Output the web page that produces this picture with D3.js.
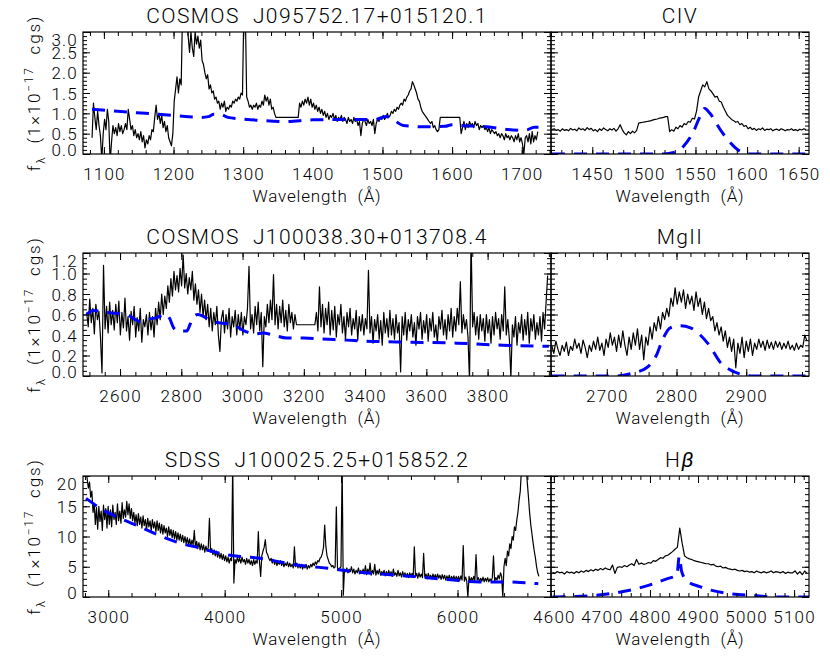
<!DOCTYPE html>
<html>
<head>
<meta charset="utf-8">
<script src="https://cdn.jsdelivr.net/npm/d3@7"></script>
<style>
  body { margin: 0; background: #fff; }
  text { font-family: Roboto, "Liberation Sans", Arial, sans-serif; font-weight: 300; fill: #000; }
</style>
</head>
<body>
<div class="chart"></div>
<script>
// Quasar spectra, three objects, each with a zoom on one broad line

// ---- Row 1 : COSMOS J095752.17+015120.1 / CIV ----
var spec1Start = 1083, spec1Step = 2;
var spec1Flux = [
  0.4, 1.25, 0.9, 0.6, 1.05, 0.7, 0.45, -0.15, 0.5, 0.85, 0.6, 1.1, 0.8, -0.2, 0.3, 0.7, 0.5, 0.65, 0.45, 0.75,
  0.55, 0.7, 0.5, 0.6, 0.75, 0.6, 1.1, 0.85, 0.6, 0.7, 0.45, 0.6, 0.4, 0.5, 0.35, 0.55, 0.3, 0.45, 0.15, 0.35,
  0.25, 0.45, 0.35, 0.6, 0.55, 0.9, 1.2, 0.85, 1.0, 0.75, 0.95, 0.65, 0.8, 0.55, 0.7, 0.4, 0.3, 0.2, 0.5, 1.3,
  1.6, 1.9, 1.5, 1.85, 1.7, 3.6, 3.6, 3.6, 3.5, 2.9, 2.5, 3.0, 2.6, 2.4, 3.0, 2.7, 2.9, 2.6, 2.8, 2.3,
  2.2, 2.0, 1.85, 1.95, 1.6, 1.7, 1.5, 1.55, 1.35, 1.4, 1.25, 1.3, 1.1, 1.25, 1.15, 1.3, 1.05, 1.15, 1.1, 1.2,
  1.15, 1.3, 1.25, 1.35, 1.3, 1.4, 1.35, 1.5, 1.45, 3.6, 3.6, 1.4, 1.3, 1.15, 1.2, 1.1, 1.2, 1.15, 1.25, 1.1,
  1.2, 1.15, 1.3, 1.2, 1.45, 1.3, 1.4, 1.2, 1.35, 1.1, 1.15, 1.0, 0.9, 0.9, 0.9, 0.9, 0.9, 0.9, 0.9, 0.9,
  0.9, 0.9, 0.9, 0.9, 0.9, 0.9, 0.9, 0.9, 0.9, 1.25, 1.15, 1.3, 1.2, 1.35, 1.25, 1.4, 1.2, 1.35, 1.15, 1.25,
  1.1, 1.2, 1.05, 1.15, 1.0, 1.1, 0.95, 1.05, 0.9, 1.0, 0.85, 0.95, 0.9, 1.0, 0.85, 0.95, 0.8, 0.9, 0.85, 0.95,
  0.8, 0.9, 0.85, 0.75, 0.9, 0.8, 0.85, 0.75, 0.9, 0.8, 0.85, 0.7, 0.8, 0.45, 0.75, 0.85, 0.8, 0.7, 0.85, 0.75,
  0.8, 0.7, 0.85, 0.5, 0.75, 0.85, 0.8, 0.9, 0.85, 0.95, 0.85, 0.9, 1.0, 0.9, 0.95, 1.05, 1.0, 1.1, 1.05, 1.15,
  1.1, 1.2, 1.25, 1.2, 1.35, 1.3, 1.4, 1.45, 1.55, 1.6, 1.78, 1.7, 1.6, 1.5, 1.35, 1.3, 1.15, 1.05, 1.0, 0.95,
  0.9, 0.85, 0.8, 0.75, 0.8, 0.65, 0.7, 0.6, 0.55, 0.6, 0.9, 0.9, 0.9, 0.9, 0.9, 0.9, 0.9, 0.9, 0.9, 0.9,
  0.9, 0.9, 0.9, 0.9, 0.9, 0.5, 0.65, 0.8, 0.6, 0.75, 0.65, 0.8, 0.7, 0.75, 0.65, 0.8, 0.7, 0.75, 0.6, 0.7,
  0.65, 0.7, 0.6, 0.65, 0.55, 0.65, 0.5, 0.6, 0.55, 0.5, 0.55, 0.45, 0.5, 0.4, 0.5, 0.45, 0.35, 0.5, 0.4, 0.45,
  0.35, 0.45, 0.4, 0.3, 0.45, 0.35, 0.5, 0.3, 0.4, 0.25, 0.0, 0.4, 0.45, 0.3, 0.5, 0.25, 0.55, 0.3, 0.45, 0.35,
  0.55
];
var model1Wave = [1083, 1120, 1160, 1200, 1240, 1250, 1258, 1268, 1278, 1300, 1330, 1360, 1400, 1450, 1490, 1505, 1515, 1530, 1560, 1590, 1600, 1612, 1650, 1680, 1705, 1718, 1724];
var model1Flux = [1.1, 1.05, 1.0, 0.95, 0.9, 0.92, 0.98, 0.97, 0.9, 0.86, 0.82, 0.8, 0.84, 0.85, 0.85, 0.92, 0.85, 0.7, 0.67, 0.68, 0.72, 0.7, 0.67, 0.6, 0.58, 0.66, 0.66];

var civStart = 1411, civStep = 2;
var civFlux = [
  0.6, 0.62, 0.58, 0.6, 0.56, 0.62, 0.58, 0.6, 0.57, 0.63,
  0.59, 0.61, 0.57, 0.64, 0.6, 0.62, 0.58, 0.65, 0.6, 0.63,
  0.57, 0.6, 0.55, 0.62, 0.58, 0.64, 0.6, 0.57, 0.62, 0.59,
  0.63, 0.56, 0.62, 0.72, 0.6, 0.52, 0.47, 0.55, 0.5, 0.56,
  0.52, 0.58, 0.76, 0.77, 0.78, 0.79, 0.8, 0.81, 0.82, 0.84,
  0.85, 0.86, 0.88, 0.89, 0.9, 0.92, 0.92, 0.55, 0.6, 0.56,
  0.66, 0.62, 0.7, 0.66, 0.75, 0.72, 0.8, 0.78, 0.88, 0.86,
  1.05, 1.4, 1.55, 1.7, 1.65, 1.78, 1.6, 1.55, 1.48, 1.4,
  1.42, 1.3, 1.28, 1.15, 1.05, 0.95, 0.9, 0.85, 0.82, 0.78,
  0.8, 0.72, 0.75, 0.68, 0.7, 0.62, 0.66, 0.6, 0.63, 0.58,
  0.62, 0.6, 0.64, 0.58, 0.61, 0.6, 0.62, 0.57, 0.6, 0.61,
  0.58, 0.62, 0.6, 0.57, 0.6, 0.59, 0.62, 0.58, 0.6, 0.57,
  0.61, 0.59, 0.62, 0.6
];
var civModelWave = [1411, 1520, 1528, 1538, 1548, 1554, 1559, 1564, 1574, 1583, 1593, 1603, 1660];
var civModelFlux = [0, 0, 0.03, 0.18, 0.55, 0.9, 1.12, 1.0, 0.6, 0.3, 0.07, 0, 0];

// ---- Row 2 : COSMOS J100038.30+013708.4 / MgII ----
var spec2Start = 2491, spec2Step = 5;
var spec2Flux = [
  .62, .48, .75, .52, .66, .41, .70, .55, .63, .38, .03, 1.08, .46, .68, .42, .72, .50, .64, .45, .70,
  .52, .73, .40, .62, .47, .76, .44, .58, .35, .63, .50, .68, .38, .57, .44, .66, .33, .55, .48, .60,
  .40, .62, .45, .58, .38, .66, .50, .72, .55, .80, .60, .78, .66, .88, .72, .95, .78, 1.02, .84, .98,
  .82, 1.05, .88, 1.18, .86, 1.00, .80, .96, .84, 1.02, .74, .90, .70, .84, .62, .80, .58, .74, .55, .70,
  .48, .66, .44, .62, .50, .68, .40, .24, .56, .64, .42, .60, .46, .66, .38, .58, .48, .64, .40, .60,
  .45, .62, .40, .58, .50, .66, 1.07, .46, .60, .42, .68, .50, .72, .44, .62, .09, .58, .48, .70, .52,
  .74, .55, .99, .50, .70, .46, .68, .52, .74, .48, .64, .44, .70, .52, .62, .46, .60, .50, .50, .50,
  .50, .50, .50, .50, .50, .50, .50, .50, .50, .50, .62, .44, .87, .48, .70, .42, .66, .50, .72, .40,
  .64, .45, .68, .38, .60, .50, .70, .42, .58, .36, .62, .48, .66, .40, .56, .46, .64, .35, .58, .44,
  .60, .40, .56, .46, 1.03, .42, .58, .32, .55, .44, .60, .36, .54, .30, .62, .42, .56, .38, .64, .40,
  .56, .36, .60, .42, .52, .04, .58, .40, .62, .35, .55, .44, .60, .38, .52, .30, .58, .46, .62, .36,
  .54, .42, .60, .34, .56, .44, .62, .38, .50, .32, .58, .46, .64, .40, .55, .36, .60, .44, .66, .38,
  .58, .44, .66, .50, .92, .42, .60, .46, .55, .38, -.05, 1.35, .48, .62, .40, .58, .36, .60, .44, .56,
  .34, .60, .42, .55, .32, .58, .40, .62, .46, .56, .36, .60, .44, .87, .40, .55, .36, -.02, .50, .38,
  .58, .30, .52, .42, .60, .35, .55, .40, .62, .32, .56, .44, .60, .36, .52, .40, .58, .34, .62, .46,
  .72, .98
];
var model2Wave = [2491, 2512, 2556, 2621, 2650, 2665, 2687, 2720, 2750, 2762, 2775, 2790, 2818, 2828, 2840, 2854, 2903, 2968, 3013, 3040, 3066, 3100, 3144, 3200, 3260, 3340, 3400, 3550, 3700, 3850, 4000];
var model2Flux = [0.6, 0.64, 0.62, 0.6, 0.55, 0.53, 0.55, 0.57, 0.6, 0.56, 0.47, 0.44, 0.44, 0.5, 0.58, 0.6, 0.53, 0.5, 0.43, 0.41, 0.42, 0.4, 0.37, 0.37, 0.36, 0.35, 0.34, 0.33, 0.32, 0.3, 0.29];

var mgStart = 2621, mgStep = 3;
var mgFlux = [
  0.30, 0.22, 0.34, 0.26, 0.20, 0.30, 0.24, 0.33, 0.20, 0.29,
  0.25, 0.36, 0.27, 0.32, 0.22, 0.35, 0.28, 0.18, 0.30, 0.24,
  0.34, 0.26, 0.38, 0.25, 0.32, 0.20, 0.36, 0.28, 0.42, 0.30,
  0.38, 0.24, 0.40, 0.28, 0.44, 0.30, 0.20, 0.38, 0.26, 0.42,
  0.30, 0.46, 0.26, 0.40, 0.16, 0.38, 0.30, 0.48, 0.36, 0.52,
  0.44, 0.58, 0.46, 0.62, 0.55, 0.66, 0.58, 0.76, 0.68, 0.86,
  0.70, 0.82, 0.72, 0.84, 0.66, 0.80, 0.70, 0.78, 0.64, 0.82,
  0.68, 0.76, 0.60, 0.72, 0.56, 0.66, 0.54, 0.58, 0.44, 0.52,
  0.40, 0.48, 0.34, 0.44, 0.28, 0.38, 0.24, 0.36, 0.08, 0.32,
  0.22, 0.38, 0.18, 0.34, 0.24, 0.36, 0.20, 0.32, 0.26, 0.36,
  0.28, 0.34, 0.25, 0.35, 0.27, 0.33, 0.26, 0.34, 0.28, 0.33,
  0.26, 0.32, 0.27, 0.34, 0.26, 0.30, 0.25, 0.32, 0.26, 0.30,
  0.28, 0.40, 0.34
];
var mgModelWave = [2621, 2714, 2738, 2757, 2771, 2781, 2791, 2805, 2820, 2834, 2848, 2862, 2877, 2891, 2910, 2990];
var mgModelFlux = [0, 0, 0.03, 0.08, 0.2, 0.37, 0.47, 0.49, 0.47, 0.4, 0.29, 0.14, 0.06, 0.02, 0, 0];

// ---- Row 3 : SDSS J100025.25+015852.2 / Hbeta ----
var spec3Start = 2809, spec3Step = 10;
var spec3Flux = [
  21.0, 19.5, 18.0, 19.0, 16.5, 17.5, 14.0, 15.5, 12.0, 14.8, 11.2, 15.0, 12.5, 14.2, 11.0, 15.2, 12.8, 14.6, 11.4, 15.0,
  12.0, 14.4, 11.6, 15.2, 12.8, 14.0, 12.0, 15.4, 12.6, 14.2, 12.2, 15.6, 13.0, 14.4, 13.2, 15.8, 13.6, 15.4, 13.0, 14.6,
  12.6, 14.0, 12.2, 13.6, 11.8, 13.8, 12.0, 13.2, 11.4, 13.4, 11.8, 12.8, 11.2, 13.0, 11.6, 12.6, 11.0, 12.8, 11.4, 12.4,
  10.8, 12.6, 11.0, 12.2, 10.6, 12.0, 10.4, 11.8, 10.6, 11.4, 10.0, 11.6, 10.2, 11.2, 9.8, 11.0, 9.6, 10.8, 9.4, 10.6,
  9.4, 10.4, 9.2, 10.2, 9.0, 10.0, 8.8, 9.8, 8.6, 9.6, 8.4, 9.4, 8.6, 11.0, 8.2, 9.2, 8.0, 9.0, 7.8, 8.8,
  7.8, 8.6, 7.4, 8.4, 7.6, 8.2, 13.0, 7.4, 8.0, 7.0, 7.8, 6.8, 7.6, 6.6, 7.4, 6.4, 7.2, 6.2, 7.0, 6.0,
  6.8, 5.8, 6.6, 5.6, 6.4, 6.0, 22.0, 2.3, 6.2, 5.6, 6.6, 5.8, 6.4, 5.6, 6.6, 5.8, 6.2, 5.4, 6.4, 5.6,
  6.2, 5.4, 6.0, 5.2, 6.2, 5.4, 6.0, 5.6, 10.8, 5.8, 3.4, 6.8, 7.6, 8.2, 9.5, 7.4, 7.0, 6.4, 6.0, 6.4,
  5.6, 6.2, 5.4, 6.0, 5.2, 5.8, 5.4, 6.0, 5.2, 5.8, 5.0, 5.6, 5.2, 5.8, 5.0, 5.6, 5.0, 5.4, 4.8, 8.3,
  5.0, 5.6, 4.8, 5.4, 4.8, 5.4, 4.6, 5.2, 4.8, 5.4, 4.6, 5.2, 4.8, 5.4, 5.0, 5.6, 5.2, 5.8, 5.4, 6.0,
  5.8, 6.4, 6.6, 7.2, 8.2, 11.9, 8.4, 6.8, 6.2, 5.6, 5.4, 5.0, 5.2, 4.8, 5.0, 14.9, 4.8, 4.6, 4.8, 5.0,
  22.0, 0.3, 4.6, 4.2, 4.8, 4.0, 4.6, 4.2, 5.0, 4.0, 4.6, 3.8, 4.4, 4.0, 4.8, 3.8, 4.4, 3.9, 4.6, 3.8,
  5.2, 3.7, 4.6, 3.9, 5.6, 3.6, 4.4, 3.8, 5.4, 3.6, 4.4, 3.8, 4.6, 3.6, 4.2, 3.8, 4.4, 3.5, 4.2, 3.6,
  4.4, 3.6, 4.2, 3.4, 4.6, 3.6, 4.0, 3.4, 4.4, 3.5, 4.0, 3.3, 4.2, 3.4, 4.0, 3.3, 3.9, 3.2, 4.0, 3.4,
  3.9, 3.2, 8.3, 3.4, 3.9, 3.1, 4.0, 3.3, 3.8, 3.2, 7.2, 3.3, 3.8, 3.0, 3.9, 3.2, 3.6, 3.0, 3.8, 3.1,
  3.7, 3.0, 3.8, 3.1, 3.6, 2.9, 3.7, 3.0, 3.6, 2.8, 3.5, 2.9, 3.6, 2.8, 3.4, 2.9, 3.5, 2.7, 3.4, 2.8,
  3.4, 2.7, 3.5, 2.8, 8.5, 2.6, 3.3, 2.7, 0.0, 3.4, 2.6, 3.2, 2.7, 3.4, 2.6, 7.0, 2.8, 3.2, 2.5, 3.1,
  2.6, 3.3, 2.5, 3.1, 2.6, 3.2, 2.5, 3.0, 2.6, 3.2, 6.8, 2.6, 3.2, 2.8, 3.6, 3.0, 4.0, 3.4, 0.0, 5.0,
  6.4, 5.2, 7.6, 6.8, 8.8, 8.0, 10.0, 9.4, 11.6, 11.0, 12.7, 14.0, 16.0, 17.5, 21.0, 24.0, 24.0, 23.0, 22.0, 19.0,
  16.6, 14.0, 12.0, 10.5, 9.0, 7.6, 6.5, 5.0, 4.0, 3.4
];
var model3Wave = [2809, 2929, 3101, 3273, 3445, 3616, 3788, 3960, 4132, 4304, 4475, 4618, 4761, 4905, 5105, 5334, 5621, 5907, 6193, 6423, 6537, 6694];
var model3Flux = [16.3, 14.7, 13.0, 11.6, 10.1, 8.9, 8.1, 7.2, 6.7, 6.4, 5.8, 5.3, 5.0, 4.7, 4.2, 3.8, 3.4, 2.9, 2.5, 2.5, 2.4, 2.2];

var hbStart = 4597, hbStep = 5;
var hbFlux = [
  4.1, 3.9, 4.2, 4.0, 4.1, 3.8, 4.2, 4.0, 4.1, 3.9,
  4.2, 4.0, 4.3, 4.1, 4.4, 4.2, 4.5, 4.3, 4.6, 4.4,
  4.7, 4.5, 4.8, 4.6, 4.5, 5.3, 3.9, 4.9, 5.0, 4.9,
  5.2, 5.0, 5.3, 5.5, 5.2, 6.2, 5.4, 5.6, 5.4, 5.5,
  5.7, 5.6, 6.0, 5.9, 6.2, 6.5, 6.4, 6.8, 6.9, 7.2,
  7.5, 7.9, 8.2, 11.4, 8.9, 6.8, 6.5, 6.3, 6.2, 6.0,
  5.9, 5.8, 5.7, 5.6, 5.5, 5.5, 5.3, 5.4, 5.1, 5.0,
  5.1, 4.8, 4.9, 4.7, 4.6, 4.5, 4.6, 4.4, 4.3, 4.4,
  4.2, 4.3, 4.1, 4.2, 4.0, 4.3, 4.1, 4.0, 4.2, 4.0,
  4.1, 4.3, 4.0, 4.2, 4.1, 4.0, 4.2, 3.9, 4.1, 4.0,
  4.0, 4.3, 3.8, 4.2, 3.7, 4.3, 3.9
];
var hbModelWave = [4597, 4675, 4744, 4800, 4835, 4856, 4861, 4866, 4877, 4904, 4953, 5023, 5060, 5131];
var hbModelFlux = [0, 0.2, 0.9, 2.0, 3.0, 3.6, 6.7, 4.2, 2.7, 1.7, 0.7, 0.2, 0, 0];

// tick labels
var xTicks1L = [1100, 1200, 1300, 1400, 1500, 1600, 1700];
var xTicks1R = [1450, 1500, 1550, 1600, 1650];
var xTicks2L = [2600, 2800, 3000, 3200, 3400, 3600, 3800];
var xTicks2R = [2700, 2800, 2900];
var xTicks3L = [3000, 4000, 5000, 6000];
var xTicks3R = [4600, 4700, 4800, 4900, 5000, 5100];
var yTicks1 = [0, 0.5, 1.0, 1.5, 2.0, 2.5, 3.0];
var yTicks2 = [0, 0.2, 0.4, 0.6, 0.8, 1.0, 1.2];
var yTicks3 = [0, 5, 10, 15, 20];

var svgWidth = 830;
var svgHeight = 664;

var svg = d3.select(".chart")
  .append("svg")
  .attr("width", svgWidth)
  .attr("height", svgHeight);

var leftX = [83, 551];
var rightX = [551, 809];

function specPoints(start, step, flux) {
  return flux.map((f, i) => [start + i * step, f]);
}
function pairs(w, f) {
  return w.map((d, i) => [d, f[i]]);
}

var panelCount = 0;

function drawPanel(p) {
  panelCount++;
  var width = p.px[1] - p.px[0];
  var height = p.bottom - p.top;

  var x = d3.scaleLinear().domain(p.xDomain).range([0, width]);
  var y = d3.scaleLinear().domain(p.yDomain).range([height, 0]);

  var g = svg.append("g")
    .attr("transform", `translate(${p.px[0]}, ${p.top})`);

  var clipId = "clip" + panelCount;
  g.append("clipPath").attr("id", clipId)
    .append("rect").attr("width", width).attr("height", height);

  var line = d3.line().x(d => x(d[0])).y(d => y(d[1]));
  var smooth = d3.line().x(d => x(d[0])).y(d => y(d[1])).curve(d3.curveMonotoneX);

  g.append("path")
    .datum(p.spec)
    .attr("clip-path", `url(#${clipId})`)
    .attr("fill", "none")
    .attr("stroke", "#000")
    .attr("stroke-width", 1.2)
    .attr("stroke-linejoin", "round")
    .attr("d", line);

  g.append("path")
    .datum(p.model)
    .attr("clip-path", `url(#${clipId})`)
    .attr("fill", "none")
    .attr("stroke", "#0000ff")
    .attr("stroke-width", 3)
    .attr("stroke-dasharray", "13,9")
    .attr("d", smooth);

  var xMinor = d3.range(Math.ceil(p.xDomain[0] / p.xMinor) * p.xMinor, p.xDomain[1], p.xMinor);
  var yMinor = d3.range(p.yDomain[0], p.yDomain[1] + 1e-9, p.yMinor);

  function axisGroup(axis, tx, ty) {
    var a = g.append("g")
      .attr("transform", `translate(${tx}, ${ty})`)
      .call(axis);
    a.select(".domain").remove();
    a.selectAll("line").attr("stroke", "#000").attr("stroke-width", 1);
    return a;
  }

  // bottom
  var bottom = axisGroup(d3.axisBottom(x).tickValues(p.xTicks).tickSize(-7).tickFormat(d3.format("d")), 0, height);
  bottom.selectAll("text")
    .attr("y", 26).attr("dy", null)
    .style("font-size", "17px")
    .style("letter-spacing", "1.2px");
  axisGroup(d3.axisBottom(x).tickValues(xMinor).tickSize(-4).tickFormat(""), 0, height);
  // top
  axisGroup(d3.axisTop(x).tickValues(p.xTicks).tickSize(-7).tickFormat(""), 0, 0);
  axisGroup(d3.axisTop(x).tickValues(xMinor).tickSize(-4).tickFormat(""), 0, 0);
  // left
  var left = axisGroup(d3.axisLeft(y).tickValues(p.yTicks).tickSize(-7)
    .tickFormat(p.yLabels ? p.yFormat : ""), 0, 0);
  if (p.yLabels) {
    left.selectAll(".tick").each(function (d) {
      var cy = Math.max(7, Math.min(height - 5, y(d)));
      d3.select(this).select("text")
        .attr("x", -5)
        .attr("y", cy - y(d))
        .attr("dy", "0.36em")
        .style("font-size", "17px")
        .style("letter-spacing", "1.2px");
    });
  }
  axisGroup(d3.axisLeft(y).tickValues(yMinor).tickSize(-4).tickFormat(""), 0, 0);
  // right
  axisGroup(d3.axisRight(y).tickValues(p.yTicks).tickSize(-7).tickFormat(""), width, 0);
  axisGroup(d3.axisRight(y).tickValues(yMinor).tickSize(-4).tickFormat(""), width, 0);

  g.append("rect")
    .attr("width", width).attr("height", height)
    .attr("fill", "none").attr("stroke", "#000").attr("stroke-width", 1.2);

  // panel title
  var t = g.append("text")
    .attr("x", width / 2)
    .attr("y", -9)
    .attr("text-anchor", "middle")
    .attr("xml:space", "preserve")
    .style("font-size", "21px")
    .style("letter-spacing", "1.4px")
    .text(p.title);
  if (p.titleGreek) {
    t.append("tspan").style("font-style", "italic").style("font-weight", 400).text(p.titleGreek);
  }

  // x axis title
  g.append("text")
    .attr("x", width / 2)
    .attr("y", height + 48)
    .attr("text-anchor", "middle")
    .attr("xml:space", "preserve")
    .style("font-size", "17px")
    .style("letter-spacing", "0.8px")
    .text("Wavelength  (Å)");

  if (p.yLabels) {
    var yl = g.append("text")
      .attr("transform", `translate(${40 - p.px[0]}, ${height / 2}) rotate(-90)`)
      .attr("text-anchor", "middle")
      .attr("xml:space", "preserve")
      .style("font-size", "17px")
      .style("letter-spacing", "1.8px");
    yl.append("tspan").text("f");
    yl.append("tspan").attr("dy", 5).style("font-size", "12px").text("λ");
    yl.append("tspan").attr("dy", -5).text("  (1×10");
    yl.append("tspan").attr("dy", -7).style("font-size", "12px").text("−17");
    yl.append("tspan").attr("dy", 7).text("  cgs)");
  }
}

var rows = [
  { top: 32, bottom: 154, yDomain: [0, 3], yTicks: yTicks1, yMinor: 0.1, yFormat: d3.format(".1f") },
  { top: 253, bottom: 376, yDomain: [0, 1.2], yTicks: yTicks2, yMinor: 0.05, yFormat: d3.format(".1f") },
  { top: 476, bottom: 597, yDomain: [0, 20], yTicks: yTicks3, yMinor: 1, yFormat: d3.format("d") }
];

var panels = [
  { row: 0, px: leftX, xDomain: [1070, 1742], xTicks: xTicks1L, xMinor: 20, yLabels: true,
    title: "COSMOS  J095752.17+015120.1",
    spec: specPoints(spec1Start, spec1Step, spec1Flux), model: pairs(model1Wave, model1Flux) },
  { row: 0, px: rightX, xDomain: [1410, 1660], xTicks: xTicks1R, xMinor: 10, yLabels: false,
    title: "CIV",
    spec: specPoints(civStart, civStep, civFlux), model: pairs(civModelWave, civModelFlux) },
  { row: 1, px: leftX, xDomain: [2479, 4007], xTicks: xTicks2L, xMinor: 50, yLabels: true,
    title: "COSMOS  J100038.30+013708.4",
    spec: specPoints(spec2Start, spec2Step, spec2Flux), model: pairs(model2Wave, model2Flux) },
  { row: 1, px: rightX, xDomain: [2620, 2990], xTicks: xTicks2R, xMinor: 20, yLabels: false,
    title: "MgII",
    spec: specPoints(mgStart, mgStep, mgFlux), model: pairs(mgModelWave, mgModelFlux) },
  { row: 2, px: leftX, xDomain: [2783, 6803], xTicks: xTicks3L, xMinor: 200, yLabels: true,
    title: "SDSS  J100025.25+015852.2",
    spec: specPoints(spec3Start, spec3Step, spec3Flux), model: pairs(model3Wave, model3Flux) },
  { row: 2, px: rightX, xDomain: [4594, 5131], xTicks: xTicks3R, xMinor: 20, yLabels: false,
    title: "H", titleGreek: "β",
    spec: specPoints(hbStart, hbStep, hbFlux), model: pairs(hbModelWave, hbModelFlux) }
];

panels.forEach(function (p) {
  drawPanel(Object.assign({}, rows[p.row], p));
});
</script>
</body>
</html>
